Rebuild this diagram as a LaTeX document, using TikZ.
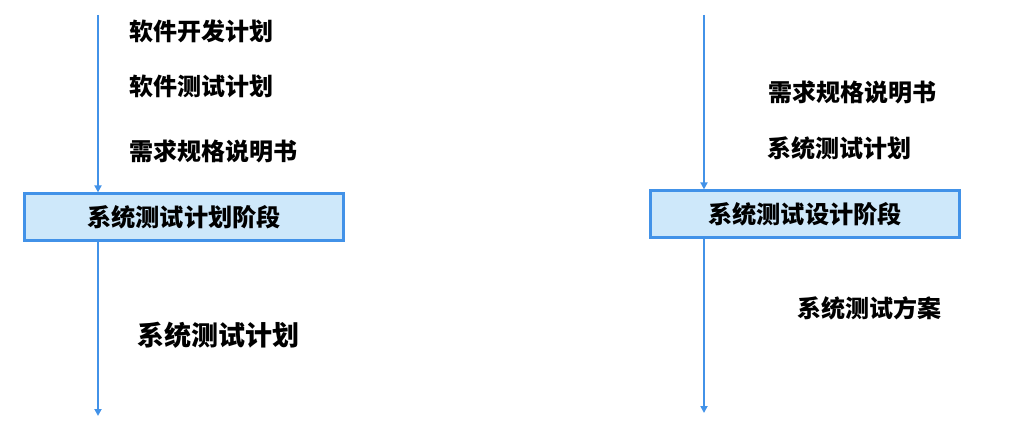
\documentclass[tikz,border=0pt]{standalone}
\usepackage{fontspec}
\newfontfamily\cjk{Noto Sans CJK SC}
\usetikzlibrary{arrows.meta}
\definecolor{flowline}{RGB}{66,146,232}
\definecolor{stagefill}{RGB}{206,232,250}

\begin{document}
\begin{tikzpicture}[x=1pt,y=-1pt,font=\cjk\bfseries]
        \tikzstyle{stage}=[draw=flowline,line width=2.2pt,fill=stagefill,minimum height=47pt,inner sep=0pt,font=\cjk\bfseries\fontsize{24.2}{24.2}\selectfont]
        \tikzstyle{doc}=[anchor=west,inner sep=0pt,font=\cjk\bfseries\fontsize{24}{24}\selectfont]
        \tikzstyle{flow}=[draw=flowline,line width=1.8pt,-{Triangle[length=7pt,width=7pt]}]

        \useasboundingbox (0,0) rectangle (1012,446);

        % stages
        \node[stage,minimum width=319pt] (plan) at (184,217) {系统测试计划阶段};
        \node[stage,minimum width=309pt] (design) at (805,214) {系统测试设计阶段};

        % flow lines
        \coordinate (plan-in) at (98,15);
        \coordinate (plan-out) at (98,416);
        \coordinate (design-in) at (704,15);
        \coordinate (design-out) at (704,413);
        \draw[flow] (plan-in) -- (plan-in |- plan.north);
        \draw[flow] (plan.south -| plan-in) -- (plan-out);
        \draw[flow] (design-in) -- (design-in |- design.north);
        \draw[flow] (design.south -| design-in) -- (design-out);

        % documents
        \foreach \name/\x/\y/\text in {d-1/129/31/软件开发计划, d-2/129/86/软件测试计划,
                                       d-3/129/151/需求规格说明书, d-4/768/92/需求规格说明书,
                                       d-5/767/148/系统测试计划, d-6/797/308/系统测试方案}
          \node[doc] (\name) at (\x,\y) {\text};
        \node[doc,font=\cjk\bfseries\fontsize{27}{27}\selectfont] (d-7) at (137,335) {系统测试计划};
      \end{tikzpicture}
\end{document}
